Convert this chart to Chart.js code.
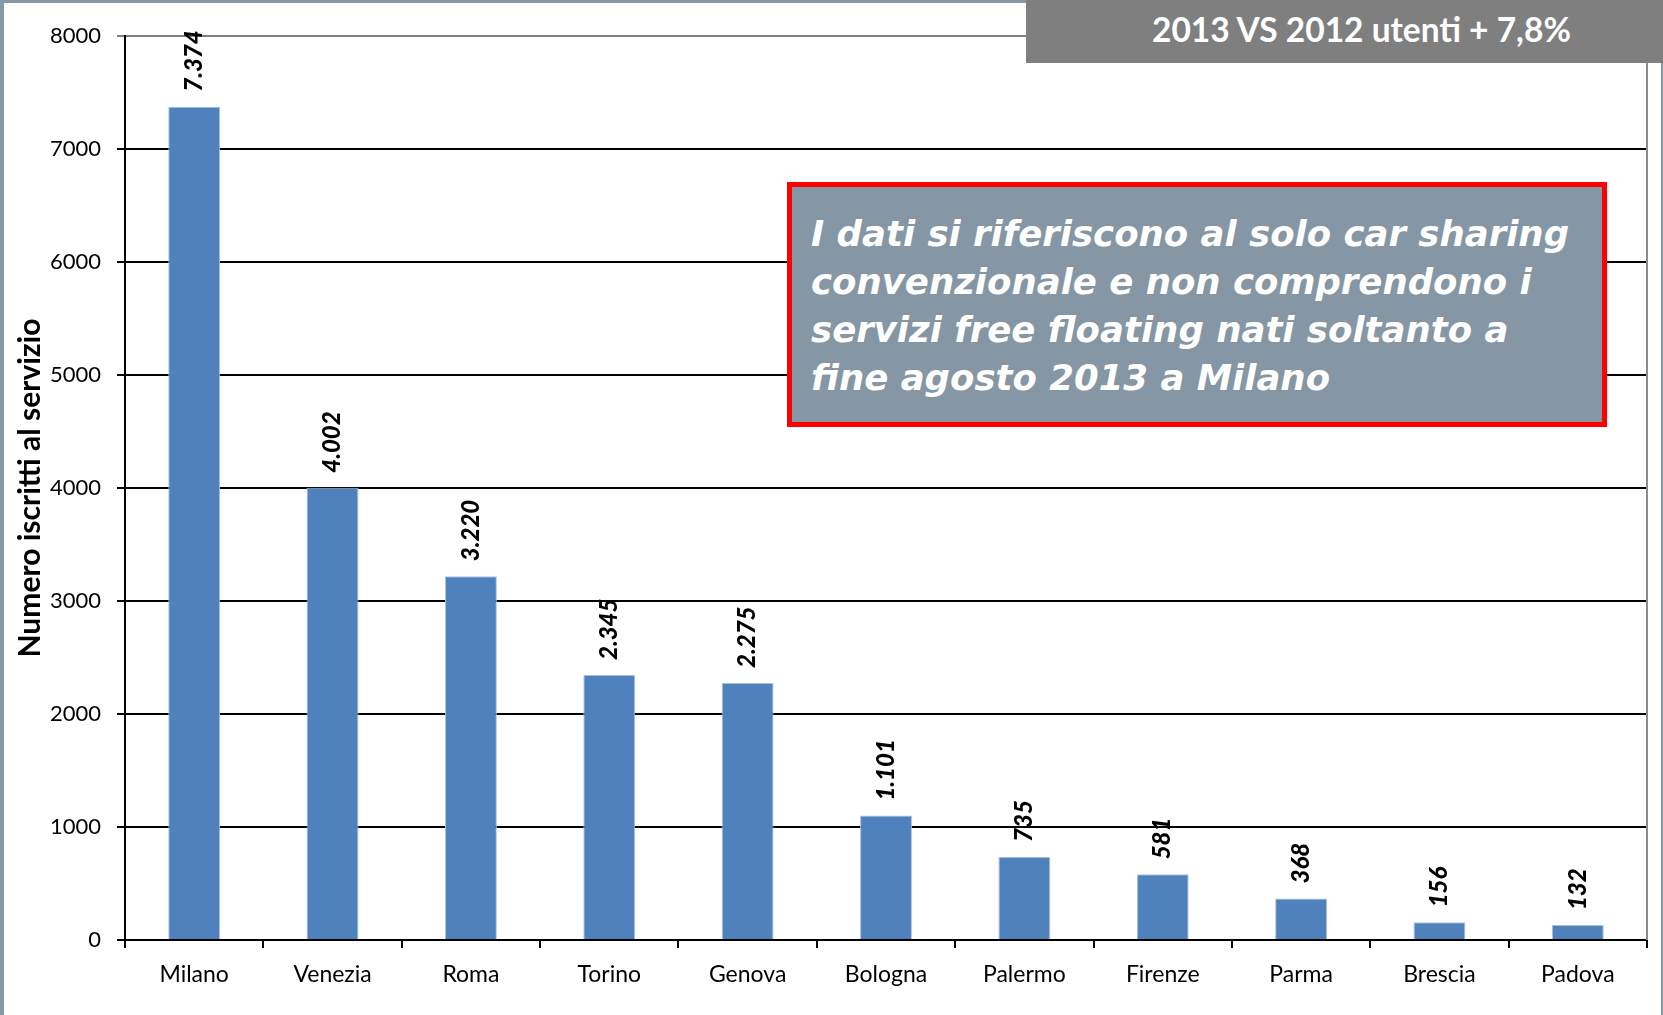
<!DOCTYPE html>
<html>
<head>
<meta charset="utf-8">
<script src="https://cdn.jsdelivr.net/npm/chart.js@4.4.1/dist/chart.umd.min.js"></script>
<style>
  html, body { margin: 0; padding: 0; background: #fff; }
  #wrap { position: relative; width: 1663px; height: 1015px; overflow: hidden; background: #fff; }
  #c { position: absolute; left: 0; top: 0; }
  .edge { position: absolute; background: #8798a6; }
  #topbox {
    position: absolute; left: 1026px; top: 0; width: 637px; height: 63px;
    background: #7f7f7f;
  }
  #topbox span {
    position: absolute; left: 126px; top: 9px;
    font: bold 33.5px Lato, sans-serif; color: #fff; white-space: nowrap;
  }
  #note {
    position: absolute; left: 787px; top: 182px; width: 820px; height: 245px;
    box-sizing: border-box; border: 5px solid #ff0000; background: #8596a4;
    padding: 23px 0 0 19px;
    font: italic bold 35.5px "DejaVu Sans", sans-serif; line-height: 48px; color: #fff;
  }
</style>
</head>
<body>
<div id="wrap">
  <canvas id="c" width="1663" height="1015"></canvas>
  <div class="edge" style="left:0;top:0;width:4px;height:1015px"></div>
  <div class="edge" style="left:0;top:0;width:1663px;height:3px"></div>
  <div class="edge" style="left:1661px;top:0;width:2px;height:1015px"></div>
  <div id="topbox"><span>2013 VS 2012 utenti + 7,8%</span></div>
  <div id="note">I dati si riferiscono al solo car sharing<br>convenzionale e non comprendono i<br>servizi free floating nati soltanto a<br>fine agosto 2013 a Milano</div>
</div>
<script>
// dati: iscritti al car sharing per città
var cities = ['Milano', 'Venezia', 'Roma', 'Torino', 'Genova', 'Bologna', 'Palermo', 'Firenze', 'Parma', 'Brescia', 'Padova'];
var users  = [7374, 4002, 3220, 2345, 2275, 1101, 735, 581, 368, 156, 132];
var yTicks = [0, 1000, 2000, 3000, 4000, 5000, 6000, 7000, 8000];

function fmtIt(v){
  var s = String(v);
  return s.length > 3 ? s.slice(0, s.length - 3) + '.' + s.slice(-3) : s;
}

/* etichette valore ruotate sopra le barre */
var valueLabels = {
  id: 'valueLabels',
  afterDatasetsDraw: function(chart){
    var ctx = chart.ctx;
    var meta = chart.getDatasetMeta(0);
    ctx.save();
    ctx.font = 'italic 900 24px Lato, sans-serif';
    ctx.fillStyle = '#000';
    ctx.textAlign = 'left';
    ctx.textBaseline = 'middle';
    meta.data.forEach(function(bar, i){
      ctx.save();
      ctx.translate(bar.x, bar.y - 15);
      ctx.rotate(-Math.PI / 2);
      ctx.fillText(fmtIt(users[i]), 0, 0);
      ctx.restore();
    });
    ctx.restore();
  }
};

/* bordo destro dell'area del grafico */
var plotEdge = {
  id: 'plotEdge',
  afterDraw: function(chart){
    var a = chart.chartArea, ctx = chart.ctx;
    ctx.save();
    ctx.strokeStyle = '#8c8c8c';
    ctx.lineWidth = 2;
    ctx.beginPath();
    ctx.moveTo(a.right, a.top);
    ctx.lineTo(a.right, a.bottom);
    ctx.stroke();
    ctx.restore();
  }
};

new Chart(document.getElementById('c'), {
  type: 'bar',
  data: {
    labels: cities,
    datasets: [{
      data: users,
      backgroundColor: '#4f81bd',
      borderColor: '#a9c1df',
      borderWidth: 1,
      barPercentage: 0.375,
      categoryPercentage: 1
    }]
  },
  options: {
    responsive: false,
    animation: false,
    devicePixelRatio: 1,
    layout: { padding: { left: 0, top: 36, right: 16, bottom: 0 } },
    plugins: { legend: { display: false }, tooltip: { enabled: false } },
    scales: {
      x: {
        afterFit: function(s){ s.height = 75; },
        grid: { display: true, drawOnChartArea: false, drawTicks: true, tickLength: 8, color: '#000', lineWidth: 2 },
        border: { display: true, color: '#000', width: 2 },
        ticks: { color: '#000', font: { family: 'Lato', size: 23 }, padding: 13, maxRotation: 0 }
      },
      y: {
        min: 0, max: 8000,
        afterFit: function(s){ s.width = 125; },
        afterBuildTicks: function(s){ s.ticks = yTicks.map(function(v){ return { value: v }; }); },
        grid: {
          tickLength: 8, lineWidth: 2,
          color: function(c){ return c.tick && c.tick.value === 8000 ? '#7f7f7f' : '#000'; }
        },
        border: { display: true, color: '#000', width: 2 },
        ticks: {
          color: '#000', font: { family: 'Lato', size: 22 }, padding: 16,
          callback: function(v){ return String(v); }
        },
        title: {
          display: true, text: 'Numero iscritti al servizio', color: '#000',
          font: { family: 'Lato', size: 30, weight: 'bold' },
          padding: { top: 12, bottom: 4 }
        }
      }
    }
  },
  plugins: [valueLabels, plotEdge]
});
</script>
</body>
</html>
